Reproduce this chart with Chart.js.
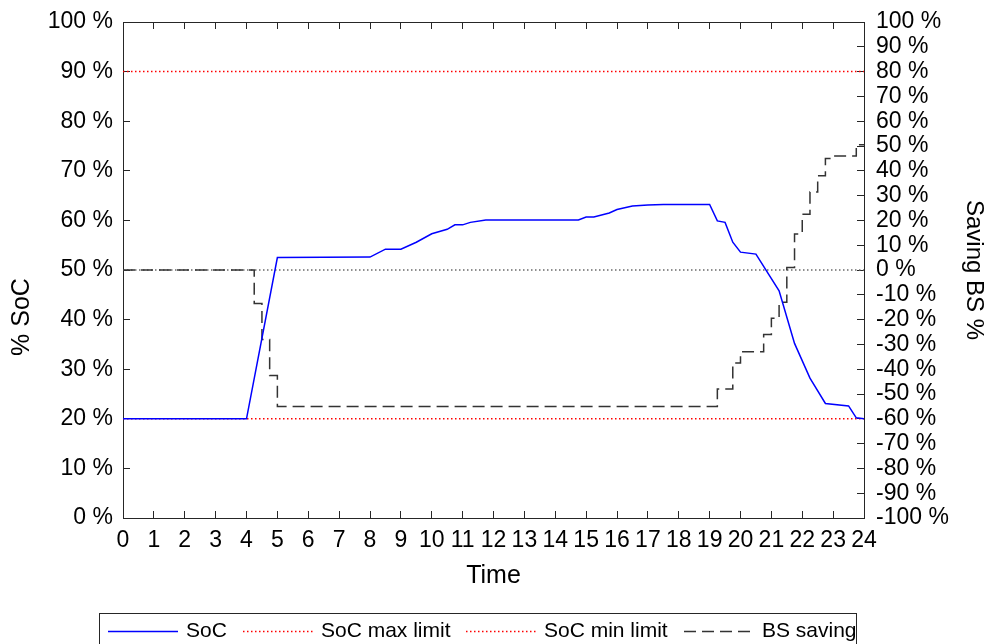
<!DOCTYPE html>
<html>
<head>
<meta charset="utf-8">
<script src="https://cdn.jsdelivr.net/npm/chart.js@4.4.1/dist/chart.umd.min.js"></script>
<style>
  html, body { margin: 0; padding: 0; background: #fff; }
  #wrap { width: 988px; height: 644px; }
</style>
</head>
<body>
<div id="wrap"><canvas id="socChart"></canvas></div>
<script>
// Estado de carga de la batería (%) a lo largo del día
const socHours = [0, 4, 5, 8, 8.5, 9, 9.5, 10, 10.5, 10.75, 11, 11.25, 11.75, 14.75, 15, 15.25, 15.75, 16, 16.5, 17, 17.5, 19, 19.25, 19.5, 19.75, 20, 20.5, 21.25, 21.75, 22.25, 22.75, 23.5, 23.75, 24];
const socValues = [20, 20, 52.5, 52.6, 54.2, 54.2, 55.6, 57.3, 58.2, 59.1, 59.1, 59.6, 60.1, 60.1, 60.7, 60.7, 61.5, 62.2, 62.9, 63.1, 63.2, 63.2, 59.9, 59.6, 55.6, 53.6, 53.2, 45.8, 35.2, 28.2, 23.1, 22.6, 20.2, 20];

// Ahorro BS (%) por escalones de 15 min: cada valor rige desde su hora hasta la siguiente
const bsHours = [0, 4.25, 4.5, 4.75, 5, 19.25, 19.75, 20, 20.75, 21, 21.25, 21.5, 21.75, 22, 22.25, 22.5, 22.75, 23, 23.75, 24];
const bsValues = [0, -13.5, -28, -42.5, -55, -48, -37.5, -33, -26, -19.5, -13, 1, 14.5, 22.5, 31.5, 38, 45, 46, 50.5, 50.5];

// Límites de SoC
const socMaxLimit = 90;
const socMinLimit = 20;
const dayStart = 0;
const dayEnd = 24;

const axisColor = '#262626';
const fontFamily = '"Liberation Sans", Arial, Helvetica, sans-serif';

const toPoints = (xs, ys) => xs.map((x, i) => ({ x: x, y: ys[i] }));
const flatLine = (v) => [{ x: dayStart, y: v }, { x: dayEnd, y: v }];

// Posiciones de las entradas de la leyenda (muestra de línea + texto)
const legendX = [108, 243, 466, 684];

// Leyenda con recuadro debajo del gráfico y rótulo del eje izquierdo
const boxLegend = {
    id: 'boxLegend',
    afterDraw(chart) {
        const ctx = chart.ctx;
        const y = 631.5;
        ctx.save();
        ctx.strokeStyle = axisColor;
        ctx.lineWidth = 1;
        ctx.setLineDash([]);
        ctx.strokeRect(99.5, 613.5, 757, 40);
        ctx.font = '21px ' + fontFamily;
        ctx.textBaseline = 'middle';
        ctx.fillStyle = '#000';
        chart.data.datasets.filter(d => d.label).forEach((ds, i) => {
            const x0 = legendX[i];
            ctx.beginPath();
            ctx.setLineDash(ds.borderDash || []);
            ctx.strokeStyle = ds.borderColor;
            ctx.lineWidth = ds.borderWidth;
            ctx.moveTo(x0, y);
            ctx.lineTo(x0 + 70, y);
            ctx.stroke();
            ctx.setLineDash([]);
            ctx.fillText(ds.label, x0 + 78, y);
        });

        // "% SoC" algo por debajo del centro del eje
        ctx.translate(22, 317);
        ctx.rotate(-Math.PI / 2);
        ctx.font = '25px ' + fontFamily;
        ctx.textAlign = 'center';
        ctx.fillText('% SoC', 0, 0);
        ctx.restore();
    }
};

const inwardGrid = {
    drawOnChartArea: false,
    tickLength: -7,
    color: axisColor,
    lineWidth: 1
};

// Ancho fijo del eje y sin margen extra arriba/abajo por las etiquetas
const fixWidth = (w) => (scale) => {
    scale.width = w;
    scale.paddingTop = 0;
    scale.paddingBottom = 0;
};

const ctx = document.getElementById('socChart').getContext('2d');
const socChart = new Chart(ctx, {
    type: 'line',
    data: {
        datasets: [
            {
                label: 'SoC',
                data: toPoints(socHours, socValues),
                borderColor: '#0000ff',
                borderWidth: 1.5,
                yAxisID: 'y',
                order: 0
            },
            {
                label: 'SoC max limit',
                data: flatLine(socMaxLimit),
                borderColor: '#ff0000',
                borderWidth: 1.5,
                borderDash: [1.5, 2.5],
                yAxisID: 'y',
                order: 3
            },
            {
                label: 'SoC min limit',
                data: flatLine(socMinLimit),
                borderColor: '#ff0000',
                borderWidth: 1.5,
                borderDash: [1.5, 2.5],
                yAxisID: 'y',
                order: 3
            },
            {
                label: 'BS saving',
                data: toPoints(bsHours, bsValues),
                borderColor: '#333333',
                borderWidth: 1.5,
                borderDash: [12, 6],
                stepped: true,
                yAxisID: 'y2',
                order: 1
            },
            {
                // línea del 0 % del eje derecho
                data: flatLine(0),
                borderColor: '#6a6a6a',
                borderWidth: 1.5,
                borderDash: [1.5, 2.5],
                yAxisID: 'y2',
                order: 2
            }
        ]
    },
    options: {
        responsive: true,
        maintainAspectRatio: false,
        animation: false,
        devicePixelRatio: 1,
        layout: { padding: { top: 22, bottom: 48, left: 0, right: 0 } },
        elements: { point: { radius: 0 }, line: { tension: 0 } },
        plugins: {
            legend: { display: false },
            tooltip: { enabled: false }
        },
        scales: {
            x: {
                type: 'linear',
                position: 'bottom',
                min: dayStart,
                max: dayEnd,
                grid: inwardGrid,
                border: { color: axisColor, width: 1 },
                ticks: {
                    stepSize: 1,
                    maxRotation: 0,
                    autoSkip: false,
                    padding: 16,
                    color: '#000',
                    font: { family: fontFamily, size: 23 }
                },
                title: {
                    display: true,
                    text: 'Time',
                    color: '#000',
                    font: { family: fontFamily, size: 25 },
                    padding: { top: 0, bottom: 5 }
                },
                afterFit: (scale) => { scale.height = 78; }
            },
            xTop: {
                type: 'linear',
                position: 'top',
                min: dayStart,
                max: dayEnd,
                grid: inwardGrid,
                border: { color: axisColor, width: 1 },
                ticks: { stepSize: 1, display: false, autoSkip: false },
                afterFit: (scale) => { scale.height = 0; }
            },
            y: {
                position: 'left',
                min: 0,
                max: 100,
                grid: inwardGrid,
                border: { color: axisColor, width: 1 },
                ticks: {
                    stepSize: 10,
                    autoSkip: false,
                    padding: 17,
                    color: '#000',
                    font: { family: fontFamily, size: 23 },
                    callback: (v) => v + ' %'
                },
                afterFit: fixWidth(123)
            },
            y2: {
                position: 'right',
                min: -100,
                max: 100,
                grid: inwardGrid,
                border: { color: axisColor, width: 1 },
                ticks: {
                    stepSize: 10,
                    autoSkip: false,
                    padding: 19,
                    color: '#000',
                    font: { family: fontFamily, size: 23 },
                    callback: (v) => v + ' %'
                },
                title: {
                    display: true,
                    text: 'Saving BS %',
                    color: '#000',
                    font: { family: fontFamily, size: 24 },
                    padding: { top: 0, bottom: 0 }
                },
                afterFit: fixWidth(124)
            }
        }
    },
    plugins: [boxLegend]
});
</script>
</body>
</html>
